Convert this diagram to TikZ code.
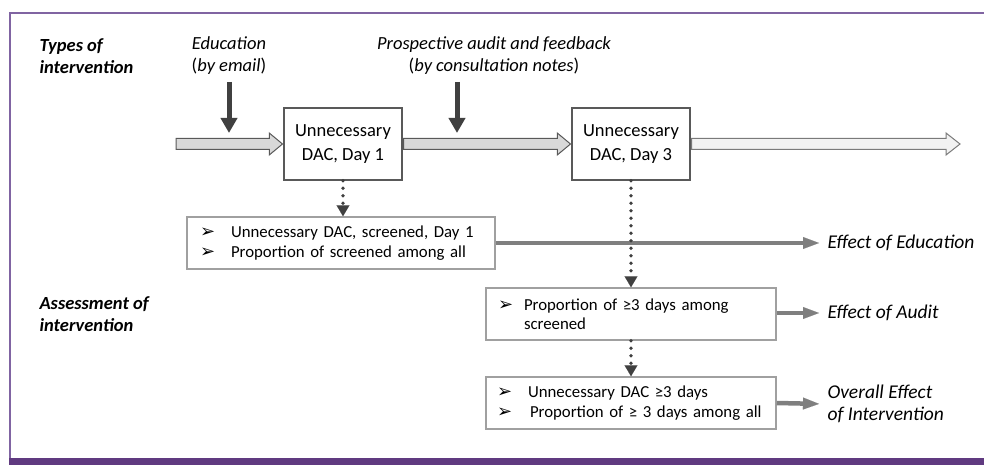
\documentclass[tikz,border=0pt]{standalone}
\usepackage{fontspec}
\setmainfont{Carlito}
\newfontfamily\symfont{DejaVu Sans}
\usetikzlibrary{calc,arrows.meta,positioning}

\definecolor{framepurple}{RGB}{128,100,162}
\definecolor{bandpurple}{RGB}{96,58,128}
\definecolor{flowgray}{RGB}{217,217,217}
\definecolor{flowlight}{RGB}{242,242,242}
\definecolor{edgegray}{RGB}{89,89,89}
\definecolor{boxgray}{RGB}{160,160,160}
\definecolor{darkarrow}{RGB}{64,64,64}
\definecolor{effectgray}{RGB}{127,127,127}

\newcommand{\bul}[1][27pt]{\makebox[#1][l]{\symfont\fontsize{18}{18}\selectfont ➢}}

\begin{document}
\begin{tikzpicture}[x=1pt,y=-1pt,font=\fontsize{18.5}{22}\selectfont,
        daybox/.style={draw=edgegray,line width=1.5pt,fill=white,minimum width=118pt,minimum height=72pt,align=center,font=\fontsize{18.5}{23.5}\selectfont},
        listbox/.style={draw=boxgray,line width=1.5pt,fill=white,align=left,minimum height=52pt,inner ysep=0pt,font=\fontsize{16.8}{19.5}\selectfont},
        headtext/.style={anchor=west,align=left,font=\fontsize{18.5}{22}\selectfont\bfseries\itshape},
        kindtext/.style={align=center,font=\fontsize{18.5}{22}\selectfont\itshape},
        efftext/.style={anchor=west,align=left,font=\fontsize{19.5}{22}\selectfont\itshape},
        pusharrow/.style={draw=darkarrow,line width=5pt,-{Triangle[width=16pt,length=15pt]}},
        dotarrow/.style={draw=darkarrow,line width=3.8pt,line cap=round,dash pattern=on 0pt off 7.5pt,-{Triangle[width=13pt,length=11pt,line width=0.1pt]}},
        effarrow/.style={draw=effectgray,line width=4.5pt,-{Triangle[width=12pt,length=16pt,line width=0.1pt]},shorten >=5pt}]
        \useasboundingbox (0,0) rectangle (984,465);

        % frame
        \draw[framepurple,line width=2pt] (10,458) -- (10,13) -- (984,13);
        \fill[bandpurple] (9,458) rectangle (984,465);

        % row labels
        \node[headtext] (types) at (36,56) {Types of\\intervention};
        \node[headtext] (assess) at (36,314) {Assessment of\\intervention};

        % interventions
        \node[kindtext] (edu) at (229,56) {Education\\{\upshape(}by email{\upshape)}};
        \node[kindtext] (pa) at (494,56) {Prospective audit and feedback\\{\upshape(}by consultation notes{\upshape)}};

        % time line
        \node[daybox] (day1) at (343,144) {Unnecessary\\DAC, Day 1};
        \node[daybox] (day3) at (631,144) {Unnecessary\\DAC, Day 3};
        \coordinate (start) at (176,144);
        \coordinate (finish) at (960,144);

        \filldraw[fill=flowgray,draw=edgegray,line width=1pt] ($(start)+(0,-5.5)$) -- ($(day1.west)+(-14,-5.5)$) -- ($(day1.west)+(-14,-11)$) -- ([xshift=-0.75pt]day1.west)
            -- ($(day1.west)+(-14,11)$) -- ($(day1.west)+(-14,5.5)$) -- ($(start)+(0,5.5)$) -- cycle;
        \filldraw[fill=flowgray,draw=edgegray,line width=1pt] ($(day1.east)+(0.75,-5.5)$) -- ($(day3.west)+(-14,-5.5)$) -- ($(day3.west)+(-14,-11)$) -- ([xshift=-0.75pt]day3.west)
            -- ($(day3.west)+(-14,11)$) -- ($(day3.west)+(-14,5.5)$) -- ($(day1.east)+(0.75,5.5)$) -- cycle;
        \filldraw[fill=flowlight,draw=edgegray!80,line width=1pt] ($(day3.east)+(0.75,-5.5)$) -- ($(finish)+(-14,-5.5)$) -- ($(finish)+(-14,-11)$) -- (finish)
            -- ($(finish)+(-14,11)$) -- ($(finish)+(-14,5.5)$) -- ($(day3.east)+(0.75,5.5)$) -- cycle;

        \coordinate (eduhit) at (229,133);
        \coordinate (pahit) at (457,133);
        \draw[pusharrow] (229,82) -- (eduhit);
        \draw[pusharrow] (457,82) -- (pahit);

        % assessment
        \node[listbox,text width=282pt,inner xsep=13pt] (scr) at (341,243)
            {\bul[31pt]Unnecessary DAC, screened, Day 1\\\bul[31pt]Proportion of screened among all};
        \node[listbox,text width=266pt,inner xsep=12pt] (aud) at (631,314)
            {\bul[26pt]Proportion of ≥3 days among\\\makebox[26pt]{}screened};
        \node[listbox,text width=268pt,inner xsep=11pt] (tot) at (631,403)
            {\bul[31pt]Unnecessary DAC ≥3 days\\\bul[33pt]Proportion of ≥ 3 days among all};

        \node[efftext] (effedu) at (824,243) {Effect of Education};
        \node[efftext] (effaud) at (824,313) {Effect of Audit};
        \node[efftext] (efftot) at (824,404) {Overall Effect\\of Intervention};

        \draw[effarrow] (scr.east) -- (effedu.west);
        \draw[effarrow] (aud.east |- effaud.west) -- (effaud.west);
        \draw[effarrow] (tot.east) -- (efftot.west);

        \draw[dotarrow] (day1.south) -- (day1.south |- scr.north);
        \draw[dotarrow] (day3.south) -- (day3.south |- aud.north);
        \draw[dotarrow] (aud.south) -- (aud.south |- tot.north);
    \end{tikzpicture}
\end{document}
